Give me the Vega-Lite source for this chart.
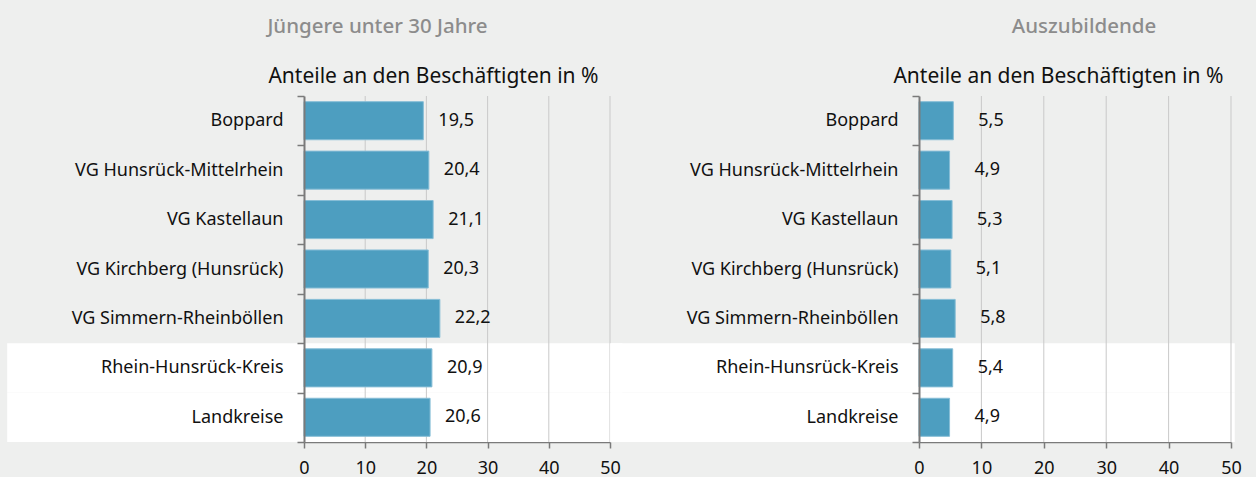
{
  "$schema": "https://vega.github.io/schema/vega-lite/v6.json",
  "background": "#eeefee",
  "padding": {"left": 7, "top": 17, "right": 15, "bottom": 0},
  "autosize": {"type": "pad"},
  "datasets": {
    "rows": [
      {"region": "Boppard", "jung": 19.5, "azubi": 5.5},
      {"region": "VG Hunsrück-Mittelrhein", "jung": 20.4, "azubi": 4.9},
      {"region": "VG Kastellaun", "jung": 21.1, "azubi": 5.3},
      {"region": "VG Kirchberg (Hunsrück)", "jung": 20.3, "azubi": 5.1},
      {"region": "VG Simmern-Rheinböllen", "jung": 22.2, "azubi": 5.8},
      {"region": "Rhein-Hunsrück-Kreis", "jung": 20.9, "azubi": 5.4},
      {"region": "Landkreise", "jung": 20.6, "azubi": 4.9}
    ],
    "grid": [{"v": 10}, {"v": 20}, {"v": 30}, {"v": 40}, {"v": 50}]
  },
  "spacing": 309,
  "bounds": "flush",
  "hconcat": [
    {
      "width": 306,
      "height": 346,
      "title": {"text": "Jüngere unter 30 Jahre", "anchor": "middle", "frame": "group", "dx": -79.5, "offset": 27.5, "fontSize": 20.5, "fontWeight": 500, "color": "#8c8c8c", "font": "Noto Sans"},
      "data": {"name": "rows"},
      "layer": [
        {
          "mark": {"type": "rect", "color": "#ffffff", "clip": false},
          "encoding": {
            "y": {"field": "region", "type": "nominal", "sort": null, "scale": {"paddingInner": 0, "paddingOuter": 0}},
            "x": {"datum": -48.5, "type": "quantitative", "axis": null},
            "x2": {"datum": 52},
            "opacity": {"condition": {"test": "datum.region === 'Rhein-Hunsrück-Kreis' || datum.region === 'Landkreise'", "value": 1}, "value": 0}
          }
        },
        {
          "data": {"name": "grid"},
          "mark": {"type": "rule", "color": "#c9c9c9", "strokeWidth": 1},
          "encoding": {
            "x": {"field": "v", "type": "quantitative", "axis": {"orient": "top", "title": "Anteile an den Beschäftigten in %", "labels": false, "ticks": false, "domain": false, "grid": false, "titleAnchor": "end", "titleAlign": "right", "titleX": 294, "titleFontSize": 21, "titleFontWeight": "normal", "titleColor": "#111111", "titleFont": "Noto Sans", "titlePadding": 10, "minExtent": 0}}
          }
        },
        {
          "mark": {"type": "bar", "color": "#4d9ec0", "stroke": "#86bdd6", "strokeWidth": 1, "height": {"band": 0.77}},
          "encoding": {
            "y": {"field": "region", "type": "nominal", "sort": null, "axis": {"title": null, "tickBand": "extent", "domainColor": "#7a7a7a", "domainWidth": 2, "tickColor": "#7a7a7a", "tickSize": 7, "tickWidth": 1.5, "labelFontSize": 18, "labelColor": "#111111", "labelFont": "Noto Sans", "labelPadding": 14, "labelLimit": 300, "minExtent": 297, "maxExtent": 297}},
            "x": {"field": "jung", "type": "quantitative", "scale": {"domain": [0, 50], "nice": false}, "axis": {"orient": "bottom", "values": [0, 10, 20, 30, 40, 50], "title": null, "grid": false, "domainColor": "#7a7a7a", "domainWidth": 1.5, "tickColor": "#7a7a7a", "tickSize": 6, "tickWidth": 1.5, "labelFontSize": 18, "labelFont": "Noto Sans", "labelPadding": 11, "labelColor": "#111111", "labelFlush": false}}
          }
        },
        {
          "mark": {"type": "text", "align": "left", "baseline": "middle", "dx": 15, "fontSize": 18, "font": "Noto Sans", "color": "#111111"},
          "encoding": {
            "y": {"field": "region", "type": "nominal", "sort": null},
            "x": {"field": "jung", "type": "quantitative", "axis": null},
            "text": {"field": "jung", "type": "quantitative", "format": ".1f"}
          }
        }
      ],
      "resolve": {"axis": {"x": "independent"}}
    },
    {
      "width": 312,
      "height": 346,
      "title": {"text": "Auszubildende", "anchor": "middle", "frame": "group", "dx": 9, "offset": 27.5, "fontSize": 20.5, "fontWeight": 500, "color": "#8c8c8c", "font": "Noto Sans"},
      "data": {"name": "rows"},
      "layer": [
        {
          "mark": {"type": "rect", "color": "#ffffff", "clip": false},
          "encoding": {
            "y": {"field": "region", "type": "nominal", "sort": null, "scale": {"paddingInner": 0, "paddingOuter": 0}},
            "x": {"datum": -49.5, "type": "quantitative", "axis": null},
            "x2": {"datum": 50.6},
            "opacity": {"condition": {"test": "datum.region === 'Rhein-Hunsrück-Kreis' || datum.region === 'Landkreise'", "value": 1}, "value": 0}
          }
        },
        {
          "data": {"name": "grid"},
          "mark": {"type": "rule", "color": "#c9c9c9", "strokeWidth": 1},
          "encoding": {
            "x": {"field": "v", "type": "quantitative", "axis": {"orient": "top", "title": "Anteile an den Beschäftigten in %", "labels": false, "ticks": false, "domain": false, "grid": false, "titleAnchor": "end", "titleAlign": "right", "titleX": 304, "titleFontSize": 21, "titleFontWeight": "normal", "titleColor": "#111111", "titleFont": "Noto Sans", "titlePadding": 10, "minExtent": 0}}
          }
        },
        {
          "mark": {"type": "bar", "color": "#4d9ec0", "stroke": "#86bdd6", "strokeWidth": 1, "height": {"band": 0.77}},
          "encoding": {
            "y": {"field": "region", "type": "nominal", "sort": null, "axis": {"title": null, "tickBand": "extent", "domainColor": "#7a7a7a", "domainWidth": 2, "tickColor": "#7a7a7a", "tickSize": 7, "tickWidth": 1.5, "labelFontSize": 18, "labelColor": "#111111", "labelFont": "Noto Sans", "labelPadding": 14, "labelLimit": 300}},
            "x": {"field": "azubi", "type": "quantitative", "scale": {"domain": [0, 50], "nice": false}, "axis": {"orient": "bottom", "values": [0, 10, 20, 30, 40, 50], "title": null, "grid": false, "domainColor": "#7a7a7a", "domainWidth": 1.5, "tickColor": "#7a7a7a", "tickSize": 6, "tickWidth": 1.5, "labelFontSize": 18, "labelFont": "Noto Sans", "labelPadding": 11, "labelColor": "#111111", "labelFlush": false}}
          }
        },
        {
          "mark": {"type": "text", "align": "left", "baseline": "middle", "dx": 25, "fontSize": 18, "font": "Noto Sans", "color": "#111111"},
          "encoding": {
            "y": {"field": "region", "type": "nominal", "sort": null},
            "x": {"field": "azubi", "type": "quantitative", "axis": null},
            "text": {"field": "azubi", "type": "quantitative", "format": ".1f"}
          }
        }
      ],
      "resolve": {"axis": {"x": "independent"}}
    }
  ],
  "config": {
    "view": {"stroke": null},
    "font": "Noto Sans",
    "locale": {"number": {"decimal": ",", "thousands": ".", "grouping": [3], "currency": ["", " €"]}}
  }
}
